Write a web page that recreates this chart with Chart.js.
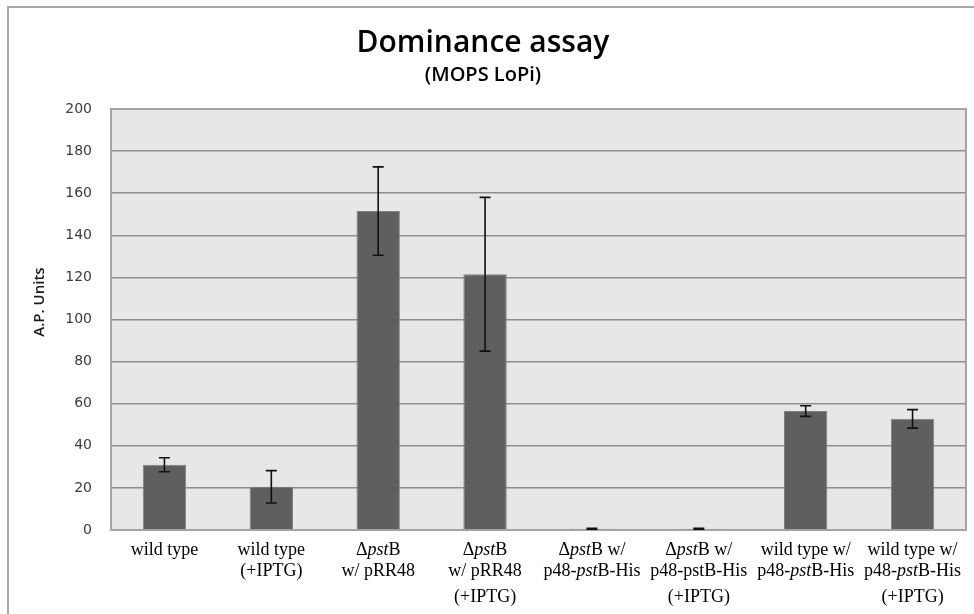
<!DOCTYPE html>
<html>
<head>
<meta charset="utf-8">
<script src="https://cdn.jsdelivr.net/npm/chart.js@4/dist/chart.umd.min.js"></script>
<style>
  html, body { margin: 0; padding: 0; background: #ffffff; }
  #wrap { width: 974px; height: 614px; }
</style>
</head>
<body>
<div id="wrap"><canvas id="c" width="974" height="614"></canvas></div>
<script>
// Strain / condition labels; text between *...* is set in italics.
const categoryLines = [
  ["wild type"],
  ["wild type", "(+IPTG)"],
  ["Δ*pst*B", "w/ pRR48"],
  ["Δ*pst*B", "w/ pRR48", "(+IPTG)"],
  ["Δ*pst*B w/", "p48-*pst*B-His"],
  ["Δ*pst*B w/", "p48-pstB-His", "(+IPTG)"],
  ["wild type w/", "p48-*pst*B-His"],
  ["wild type w/", "p48-*pst*B-His", "(+IPTG)"]
];
// Alkaline phosphatase activity (A.P. units) and standard deviation.
const apUnits = [31, 20.5, 151.5, 121.5, 0.6, 0.6, 56.5, 52.8];
const apError = [3.3, 7.7, 21, 36.5, 0.2, 0.2, 2.5, 4.4];
const yTicks = [0, 20, 40, 60, 80, 100, 120, 140, 160, 180, 200];

const categories = categoryLines.map(l => l.join(' ').replace(/\*/g, ''));

const frame = {
  id: 'frame',
  beforeDraw(chart) {
    const { ctx, chartArea: a } = chart;
    ctx.save();
    ctx.fillStyle = '#ffffff';
    ctx.fillRect(0, 0, chart.width, chart.height);
    ctx.strokeStyle = '#a8a8a8';
    ctx.lineWidth = 2;
    ctx.strokeRect(8, 7, chart.width + 10, chart.height + 10);
    ctx.fillStyle = '#e6e7e6';
    ctx.fillRect(a.left, a.top, a.right - a.left, a.bottom - a.top);
    ctx.restore();
  },
  beforeDatasetsDraw(chart) {
    const { ctx, chartArea: a } = chart;
    ctx.save();
    ctx.strokeStyle = '#a4a4a4';
    ctx.lineWidth = 2;
    ctx.strokeRect(a.left, a.top, a.right - a.left, a.bottom - a.top);
    ctx.restore();
  }
};

const errorBars = {
  id: 'errorBars',
  afterDatasetsDraw(chart) {
    const { ctx } = chart;
    const y = chart.scales.y;
    const meta = chart.getDatasetMeta(0);
    ctx.save();
    ctx.strokeStyle = '#111111';
    ctx.lineWidth = 1.6;
    meta.data.forEach((bar, i) => {
      const x = bar.x;
      const hi = y.getPixelForValue(apUnits[i] + apError[i]);
      const lo = y.getPixelForValue(apUnits[i] - apError[i]);
      ctx.beginPath();
      ctx.moveTo(x, hi); ctx.lineTo(x, lo);
      ctx.moveTo(x - 5.5, hi); ctx.lineTo(x + 5.5, hi);
      ctx.moveTo(x - 5.5, lo); ctx.lineTo(x + 5.5, lo);
      ctx.stroke();
    });
    ctx.restore();
  }
};

// Splits "Δ*pst*B" into runs of upright / italic text.
function runs(line) {
  return line.split('*').map((t, k) => ({ text: t, italic: k % 2 === 1 })).filter(r => r.text);
}

const labelsAndTitle = {
  id: 'labelsAndTitle',
  afterDraw(chart) {
    const { ctx } = chart;
    const xs = chart.scales.x;
    const lineY = [550, 571, 597];
    const fam = '"Liberation Serif", "Times New Roman", serif';
    ctx.save();
    ctx.fillStyle = '#000000';
    ctx.textBaseline = 'middle';
    ctx.textAlign = 'left';
    categoryLines.forEach((lines, i) => {
      const cx = xs.getPixelForValue(i);
      lines.forEach((line, j) => {
        const parts = runs(line);
        let w = 0;
        parts.forEach(p => {
          ctx.font = (p.italic ? 'italic ' : '') + '18px ' + fam;
          p.w = ctx.measureText(p.text).width;
          w += p.w;
        });
        let x = cx - w / 2;
        parts.forEach(p => {
          ctx.font = (p.italic ? 'italic ' : '') + '18px ' + fam;
          ctx.fillText(p.text, x, lineY[j]);
          x += p.w;
        });
      });
    });
    // value axis title
    ctx.translate(40, 302);
    ctx.rotate(-Math.PI / 2);
    ctx.textAlign = 'center';
    ctx.font = '600 15px "Open Sans", sans-serif';
    ctx.fillStyle = '#1a1a1a';
    ctx.fillText('A.P. Units', 0, 0);
    ctx.restore();
  }
};

new Chart(document.getElementById('c'), {
  type: 'bar',
  data: {
    labels: categories,
    datasets: [{
      data: apUnits,
      backgroundColor: '#5f5f5f',
      borderColor: '#808080',
      borderWidth: 1,
      barPercentage: 0.406,
      categoryPercentage: 1.0
    }]
  },
  options: {
    responsive: false,
    devicePixelRatio: 1,
    animation: false,
    layout: { padding: { left: 0, right: 8, top: 0, bottom: 0 } },
    plugins: {
      legend: { display: false },
      tooltip: { enabled: false },
      title: {
        display: true,
        text: 'Dominance assay',
        color: '#000000',
        font: { family: '"Open Sans", sans-serif', size: 30, weight: 600 },
        padding: { top: 25, bottom: 0 }
      },
      subtitle: {
        display: true,
        text: '(MOPS LoPi)',
        color: '#000000',
        font: { family: '"Open Sans", sans-serif', size: 20, weight: 600 },
        padding: { top: 2, bottom: 22 }
      }
    },
    scales: {
      x: {
        grid: { display: false },
        border: { display: false },
        ticks: { display: false },
        afterFit(s) { s.height = 84; }
      },
      y: {
        min: 0,
        max: 200,
        afterBuildTicks(s) { s.ticks = yTicks.map(v => ({ value: v })); },
        ticks: {
          color: '#3c3c3c',
          padding: 19,
          font: { family: '"DejaVu Sans", sans-serif', size: 14 }
        },
        grid: { color: '#8e8e8e', lineWidth: 1.5, drawTicks: false },
        border: { color: '#a4a4a4', width: 2 },
        afterFit(s) { s.width = 111; }
      }
    }
  },
  plugins: [frame, errorBars, labelsAndTitle]
});
</script>
</body>
</html>
